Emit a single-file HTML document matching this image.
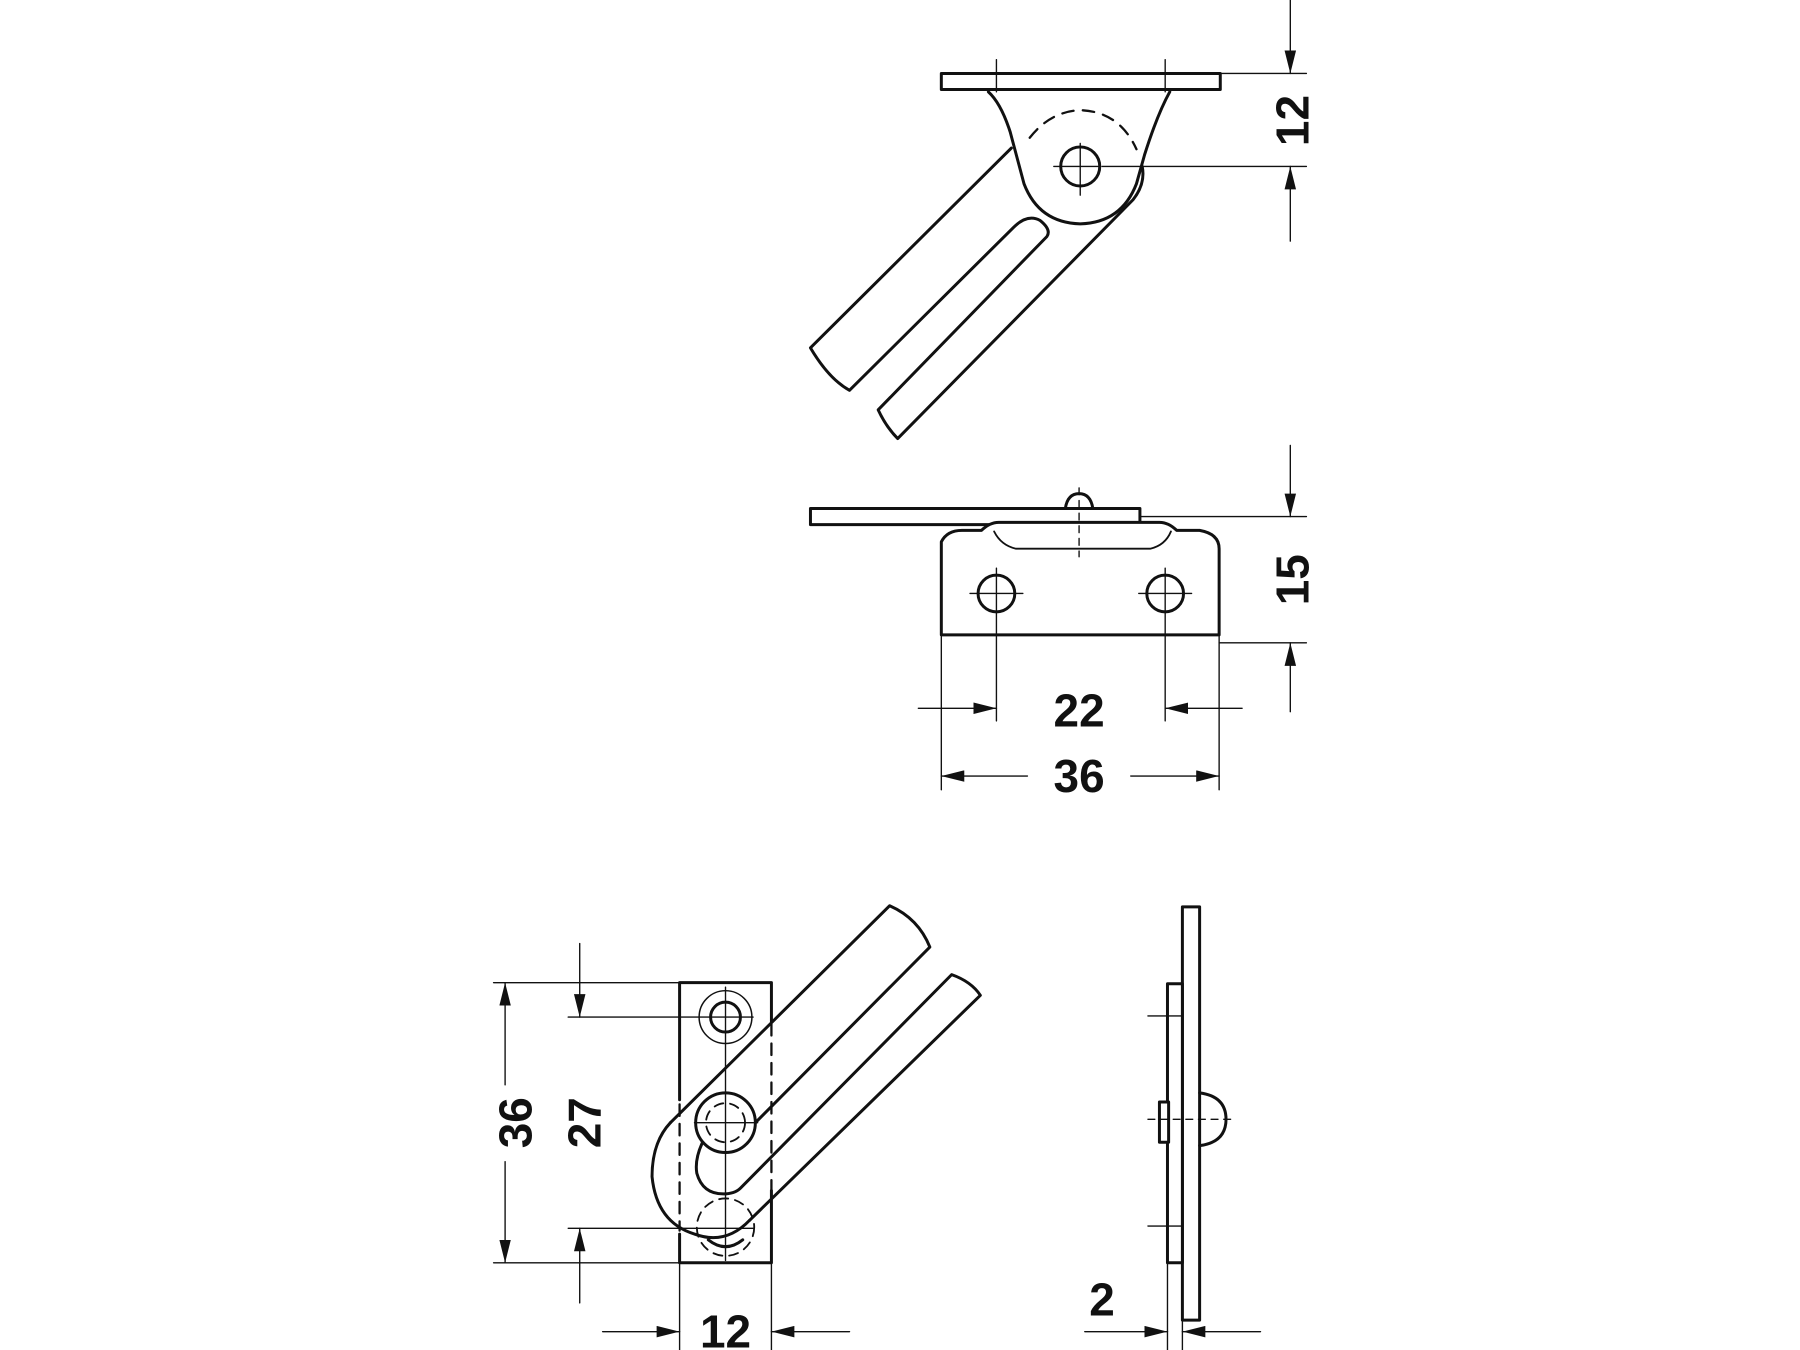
<!DOCTYPE html>
<html><head><meta charset="utf-8"><style>
html,body{margin:0;padding:0;background:#fff;}
svg{display:block;}
text{font-family:"Liberation Sans",Arial,sans-serif;font-weight:bold;font-size:40px;fill:#111;}
</style></head><body>
<svg width="1800" height="1350" viewBox="0 0 1568 1176" xmlns="http://www.w3.org/2000/svg">
<defs>
<marker id="a" viewBox="0 0 20 10" refX="20" refY="5" markerWidth="20" markerHeight="10" markerUnits="userSpaceOnUse" orient="auto"><path d="M0,0 L20,5 L0,10 Z" fill="#111"/></marker>
</defs>
<g fill="none" stroke="#111" stroke-width="2.6" stroke-linejoin="round" stroke-linecap="round">
<!-- TOP VIEW -->
<rect x="820" y="64" width="243" height="14" fill="#fff"/>
<path d="M861,80 Q872,90 880,115 L892,160 Q905,194 941,195 Q977,194 990,160 L997,135 Q1008,100 1019,80"/>
<path d="M881,129 L706,303 Q722,330 740,340 L883,198 Q895,186 906,192 Q916,200 912,206 L765,357 Q772,372 782,382 L987,174 Q998,160 995,145"/>
<path d="M897,120 Q915,97 941,96 Q975,97 990,130" stroke-dasharray="10,8" stroke-width="2"/>
<circle cx="941" cy="145" r="17"/>
<g stroke-width="1.2">
<line x1="868" y1="52" x2="868" y2="80"/><line x1="1015" y1="52" x2="1015" y2="80"/>
<line x1="1063" y1="64" x2="1138" y2="64"/><line x1="960" y1="145" x2="1138" y2="145"/>
<line x1="918" y1="145" x2="958" y2="145"/>
<line x1="941" y1="125" x2="941" y2="170"/>
<line x1="1124" y1="0" x2="1124" y2="64" marker-end="url(#a)"/>
<line x1="1124" y1="210" x2="1124" y2="145" marker-end="url(#a)"/>
</g>
<!-- FRONT VIEW -->
<rect x="706" y="443" width="287" height="14" fill="#fff"/>
<path d="M928,443 Q930,430 940,430 Q950,430 952,443"/>
<path d="M820,553 L820,472 Q825,462 838,462 L855,462 Q862,455 870,455 L1010,455 Q1018,455 1025,462 L1045,462 Q1062,465 1062,478 L1062,553 Z" fill="#fff"/>
<path d="M866,463 Q872,475 885,478 L1002,478 Q1015,475 1020,463" stroke-width="1.6"/>
<circle cx="868" cy="517" r="16"/><circle cx="1015" cy="517" r="16"/>
<g stroke-width="1.2">
<line x1="940" y1="425" x2="940" y2="485" stroke-dasharray="6,5"/>
<line x1="845" y1="517" x2="891" y2="517"/><line x1="992" y1="517" x2="1038" y2="517"/>
<line x1="868" y1="495" x2="868" y2="628"/><line x1="1015" y1="495" x2="1015" y2="628"/>
<line x1="820" y1="553" x2="820" y2="688"/><line x1="1062" y1="553" x2="1062" y2="688"/>
<line x1="993" y1="450" x2="1138" y2="450"/><line x1="1062" y1="560" x2="1138" y2="560"/>
<line x1="1124" y1="388" x2="1124" y2="450" marker-end="url(#a)"/>
<line x1="1124" y1="620" x2="1124" y2="560" marker-end="url(#a)"/>
<line x1="800" y1="617" x2="868" y2="617" marker-end="url(#a)"/>
<line x1="1082" y1="617" x2="1015" y2="617" marker-end="url(#a)"/>
<line x1="895" y1="676" x2="820" y2="676" marker-end="url(#a)"/>
<line x1="985" y1="676" x2="1062" y2="676" marker-end="url(#a)"/>
</g>
<!-- BOTTOM-LEFT VIEW -->
<path d="M592,856 L672,856 L672,890 M672,1037 L672,1100 L592,1100 L592,1075 M592,958 L592,856"/>
<line x1="672" y1="892" x2="672" y2="1036" stroke-dasharray="10,7" stroke-width="2"/>
<line x1="592" y1="962" x2="592" y2="1072" stroke-dasharray="10,7" stroke-width="2"/>
<path d="M584,978 L775,789 Q800,800 810,825 L658,978"/>
<path d="M612,995 Q605,1010 607,1022 Q612,1040 630,1040 Q640,1040 645,1035 L829,849 Q846,855 854,867 L653,1063"/>
<path d="M584,978 Q568,995 568,1025 Q572,1065 605,1075 Q632,1085 653,1063"/>
<circle cx="632" cy="886" r="23" stroke-width="1.3"/><circle cx="632" cy="886" r="13"/>
<circle cx="632" cy="978" r="26"/>
<circle cx="632" cy="978" r="17" stroke-dasharray="8,6" stroke-width="1.6"/>
<circle cx="632" cy="1069" r="25" stroke-dasharray="8,6" stroke-width="1.6"/>
<path d="M617,1080 Q632,1092 647,1080" />
<g stroke-width="1.2">
<line x1="632" y1="860" x2="632" y2="1098"/><line x1="605" y1="978" x2="660" y2="978"/>
<line x1="430" y1="856" x2="592" y2="856"/><line x1="430" y1="1100" x2="592" y2="1100"/>
<line x1="495" y1="886" x2="656" y2="886"/><line x1="495" y1="1070" x2="656" y2="1070"/>
<line x1="440" y1="945" x2="440" y2="856" marker-end="url(#a)"/>
<line x1="440" y1="1012" x2="440" y2="1100" marker-end="url(#a)"/>
<line x1="505" y1="822" x2="505" y2="886" marker-end="url(#a)"/>
<line x1="505" y1="1135" x2="505" y2="1070" marker-end="url(#a)"/>
<line x1="592" y1="1100" x2="592" y2="1176"/><line x1="672" y1="1100" x2="672" y2="1176"/>
<line x1="525" y1="1160" x2="592" y2="1160" marker-end="url(#a)"/>
<line x1="740" y1="1160" x2="672" y2="1160" marker-end="url(#a)"/>
</g>
<!-- SIDE VIEW -->
<rect x="1030" y="790" width="15" height="360" fill="#fff"/>
<rect x="1017" y="857" width="13" height="243" fill="#fff"/>
<rect x="1010" y="960" width="8" height="35" fill="#fff"/>
<path d="M1045,952 Q1068,955 1068,975 Q1068,995 1045,998"/>
<g stroke-width="1.2">
<line x1="1000" y1="885" x2="1030" y2="885"/><line x1="1000" y1="1068" x2="1030" y2="1068"/>
<line x1="1000" y1="975" x2="1075" y2="975" stroke-dasharray="6,5"/>
<line x1="1017" y1="1100" x2="1017" y2="1176"/><line x1="1030" y1="1150" x2="1030" y2="1176"/>
<line x1="945" y1="1160" x2="1017" y2="1160" marker-end="url(#a)"/>
<line x1="1098" y1="1160" x2="1030" y2="1160" marker-end="url(#a)"/>
</g>
</g>
<text transform="translate(1140,105) rotate(-90)" text-anchor="middle">12</text>
<text transform="translate(1140,505) rotate(-90)" text-anchor="middle">15</text>
<text x="940" y="633" text-anchor="middle">22</text>
<text x="940" y="690" text-anchor="middle">36</text>
<text transform="translate(463,978) rotate(-90)" text-anchor="middle">36</text>
<text transform="translate(523,978) rotate(-90)" text-anchor="middle">27</text>
<text x="632" y="1174" text-anchor="middle">12</text>
<text x="960" y="1146" text-anchor="middle">2</text>
</svg>
</body></html>
